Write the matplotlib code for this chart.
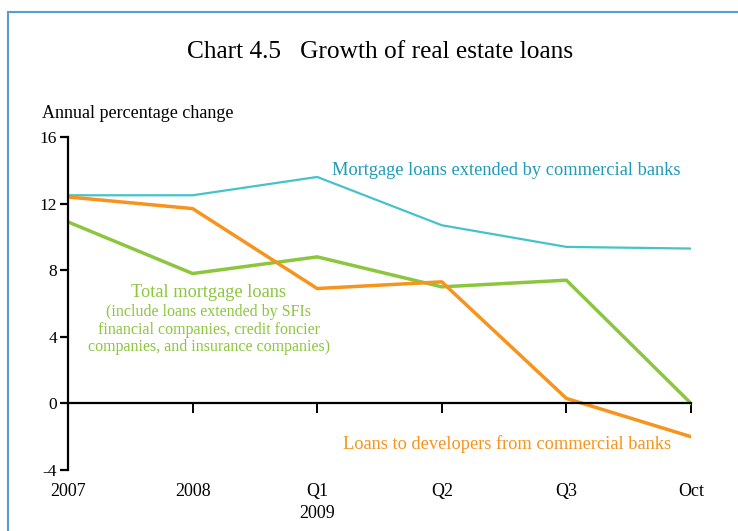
import matplotlib.pyplot as plt
from matplotlib.patches import Rectangle

plt.rcParams['font.family'] = ['Liberation Serif', 'DejaVu Serif']

# --- Daten ---
periods = ['2007', '2008', 'Q1', 'Q2', 'Q3', 'Oct']
mortgage_banks = [12.5, 12.5, 13.6, 10.7, 9.4, 9.3]
total_mortgage = [10.9, 7.8, 8.8, 7.0, 7.4, 0.0]
developers = [12.4, 11.7, 6.9, 7.3, 0.3, -2.0]
yticks = [-4, 0, 4, 8, 12, 16]

c_cyan = '#45c3c8'
c_cyan_txt = '#1f9bb6'
c_green = '#8cc63e'
c_orange = '#f7941d'

fig = plt.figure(figsize=(7.38, 5.31), dpi=100)

# hellblauer Rahmen
fig.add_artist(Rectangle((8 / 738, -0.1), 1.2, 1 - 11.5 / 531 + 0.1,
                         transform=fig.transFigure, fill=False,
                         edgecolor='#5b9bd5', linewidth=1.5))

ax = fig.add_axes([68 / 738, 61 / 531, 623 / 738, 333 / 531])
x = list(range(len(periods)))

ax.plot(x, mortgage_banks, color=c_cyan, linewidth=1.6)
ax.plot(x, total_mortgage, color=c_green, linewidth=2.5)
ax.plot(x, developers, color=c_orange, linewidth=2.5)

ax.set_xlim(0, 5)
ax.set_ylim(-4, 16)
ax.set_yticks(yticks)
ax.set_yticklabels([str(v) for v in yticks], fontsize=12.5)
ax.set_xticks(x)
ax.set_xticklabels([])

for s in ['top', 'right']:
    ax.spines[s].set_visible(False)
ax.spines['bottom'].set_position(('data', 0))
ax.spines['bottom'].set_linewidth(1.6)
ax.spines['left'].set_linewidth(1.6)
ax.tick_params(axis='y', direction='out', length=6, width=1.6, pad=2)
ax.tick_params(axis='x', direction='out', length=7, width=1.4)

# X-Beschriftungen unterhalb von -4
for i, lab in enumerate(periods):
    ax.text(i, -5.28, lab, ha='center', va='center', fontsize=13)
ax.text(2, -6.62, '2009', ha='center', va='center', fontsize=13)

# Titel und Achsentitel
fig.text(380 / 738, 1 - 52 / 531, 'Chart 4.5   Growth of real estate loans',
         ha='center', va='center', fontsize=18.3)
fig.text(42 / 738, 1 - 113 / 531, 'Annual percentage change',
         ha='left', va='center', fontsize=13)

# Serienbeschriftungen
ax.text(3.515, 14.0, 'Mortgage loans extended by commercial banks',
        color=c_cyan_txt, ha='center', va='center', fontsize=13.2)
ax.text(1.13, 6.65, 'Total mortgage loans', color=c_green,
        ha='center', va='center', fontsize=13.2)
ax.text(1.13, 4.43,
        '(include loans extended by SFIs\nfinancial companies, credit foncier\n'
        'companies, and insurance companies)',
        color=c_green, ha='center', va='center', fontsize=11.5,
        linespacing=1.1)
ax.text(3.52, -2.46, 'Loans to developers from commercial banks',
        color=c_orange, ha='center', va='center', fontsize=13.2)

plt.savefig('out.png', dpi=100)
